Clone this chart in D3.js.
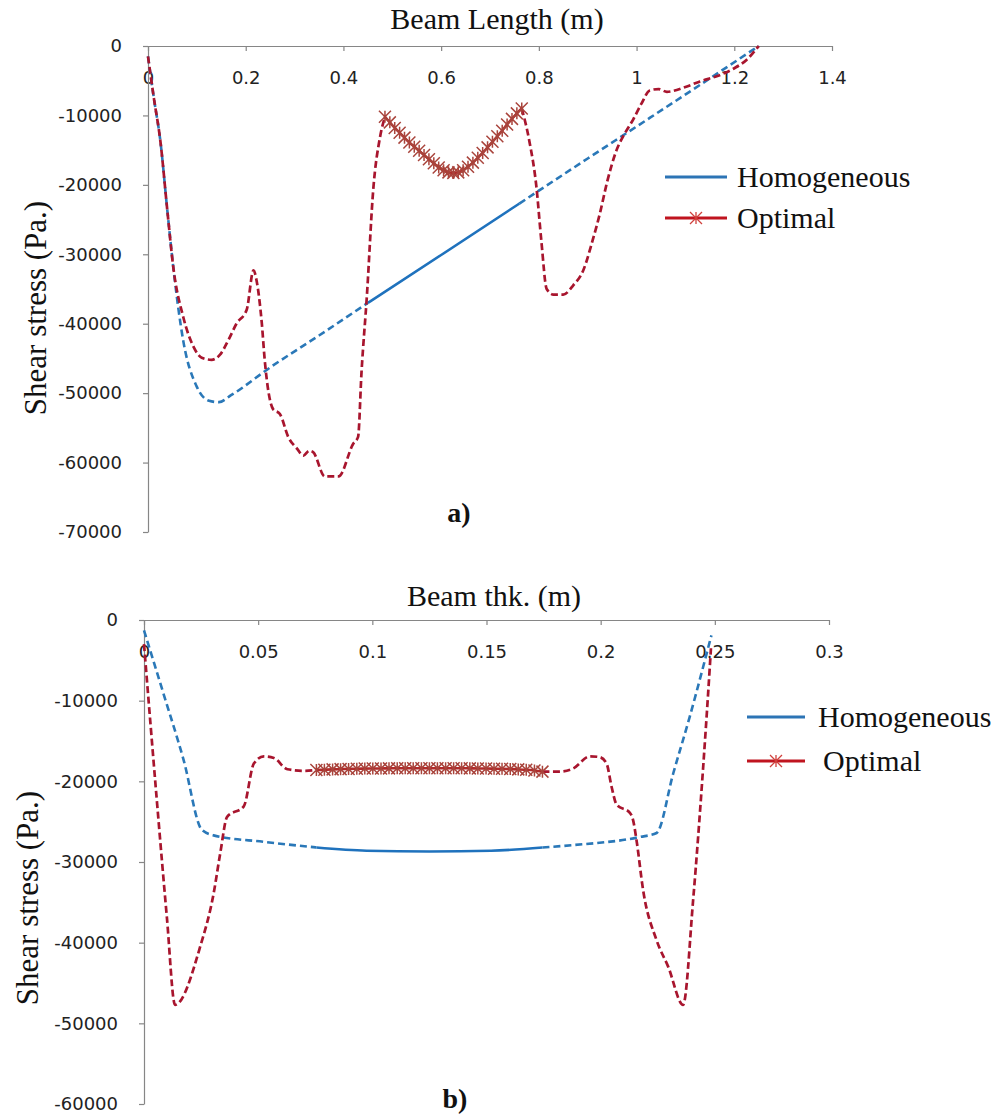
<!DOCTYPE html>
<html>
<head>
<meta charset="utf-8">
<script src="https://cdn.jsdelivr.net/npm/d3@7"></script>
<style>
  body { margin: 0; background: #fff; }
  .tick text { font-family: "DejaVu Sans", sans-serif; font-size: 18px; fill: #222; }
  .serif { font-family: "Liberation Serif", "Times New Roman", serif; fill: #111; }
</style>
</head>
<body>
<script>
// ---- a) shear stress along beam length ----
const lenTicksX = [0, 0.2, 0.4, 0.6, 0.8, 1, 1.2, 1.4];
const lenTicksY = [0, -10000, -20000, -30000, -40000, -50000, -60000, -70000];

const lenHomX = [0, 0.012, 0.025, 0.04, 0.052, 0.072, 0.1, 0.125, 0.145, 0.17, 0.25, 0.35, 0.45, 0.6, 0.76, 0.9, 1.0, 1.13, 1.25];
const lenHomY = [-1500, -7500, -13500, -24000, -32000, -42400, -49100, -51100, -51300, -50300, -46300, -41700, -37000, -30100, -22700, -16200, -11600, -5600, 0];
const lenHomSolid = [0.45, 0.76];

const lenOptStartX = [0, 0.012, 0.025, 0.04, 0.052, 0.072, 0.093, 0.11, 0.13, 0.147, 0.165, 0.181, 0.202, 0.216, 0.222, 0.233, 0.239, 0.256, 0.27, 0.287, 0.305, 0.318, 0.33, 0.338, 0.362, 0.39, 0.42, 0.43, 0.437, 0.448, 0.461, 0.475, 0.485];
const lenOptStartY = [-1500, -7500, -13500, -24000, -32000, -39000, -43300, -44900, -45200, -44500, -42300, -40000, -38000, -32300, -33700, -40000, -45300, -52300, -53000, -56300, -58000, -59000, -58300, -58500, -62000, -62000, -57300, -56300, -47000, -36000, -20700, -13100, -10200];

const lenOptStarX = [0.485, 0.495, 0.505, 0.515, 0.525, 0.535, 0.545, 0.555, 0.565, 0.575, 0.585, 0.595, 0.605, 0.615, 0.625, 0.635, 0.645, 0.655, 0.665, 0.675, 0.685, 0.695, 0.705, 0.715, 0.725, 0.735, 0.745, 0.755, 0.765];
const lenOptStarY = [-10200, -11000, -11800, -12500, -13200, -13900, -14500, -15100, -15700, -16300, -16900, -17500, -17900, -18200, -18300, -18200, -17900, -17400, -16800, -16100, -15400, -14600, -13800, -13000, -12200, -11300, -10500, -9700, -9000];

const lenOptEndX = [0.765, 0.78, 0.795, 0.805, 0.816, 0.83, 0.85, 0.87, 0.891, 0.91, 0.925, 0.94, 0.959, 0.975, 0.993, 1.01, 1.027, 1.045, 1.062, 1.1, 1.13, 1.17, 1.2, 1.225, 1.25];
const lenOptEndY = [-9000, -13500, -20300, -28000, -35000, -35800, -35800, -34500, -32300, -28000, -24100, -19500, -15000, -12700, -10600, -8300, -6400, -6200, -6600, -5900, -5100, -4200, -3200, -2000, 0];

// ---- b) shear stress through beam thickness ----
const thkTicksX = [0, 0.05, 0.1, 0.15, 0.2, 0.25, 0.3];
const thkTicksY = [0, -10000, -20000, -30000, -40000, -50000, -60000];

const thkHomX = [0, 0.0085, 0.0173, 0.0253, 0.0305, 0.0525, 0.0755, 0.0975, 0.125, 0.152, 0.1745, 0.188, 0.2172, 0.2245, 0.2318, 0.239, 0.2449, 0.2485];
const thkHomY = [-1300, -9100, -17300, -26000, -26700, -27500, -28200, -28600, -28700, -28600, -28200, -27900, -26900, -26400, -19000, -12000, -5800, -1900];
const thkHomSolid = [0.0755, 0.1745];

const thkOptStartX = [0, 0.0056, 0.01, 0.0136, 0.0246, 0.0305, 0.0334, 0.0364, 0.0437, 0.0481, 0.0525, 0.0569, 0.0628, 0.07, 0.0755];
const thkOptStartY = [-3000, -22300, -36800, -47700, -40500, -33900, -28900, -24400, -23100, -17800, -16900, -17100, -18500, -18700, -18600];

const thkOptStarX = [0.0755, 0.079, 0.0826, 0.0861, 0.0896, 0.0932, 0.0967, 0.1002, 0.1038, 0.1073, 0.1109, 0.1144, 0.1179, 0.1215, 0.125, 0.1285, 0.1321, 0.1356, 0.1391, 0.1427, 0.1462, 0.1498, 0.1533, 0.1568, 0.1604, 0.1639, 0.1674, 0.171, 0.1745];
const thkOptStarY = [-18600, -18560, -18520, -18490, -18460, -18440, -18420, -18410, -18400, -18390, -18380, -18380, -18370, -18370, -18370, -18370, -18370, -18380, -18380, -18390, -18400, -18410, -18430, -18450, -18480, -18520, -18570, -18660, -18800];

const thkOptEndX = [0.1745, 0.182, 0.188, 0.1953, 0.1996, 0.2026, 0.2048, 0.207, 0.2128, 0.2142, 0.2157, 0.2186, 0.2245, 0.2296, 0.2361, 0.2405, 0.2449, 0.2478, 0.2483];
const thkOptEndY = [-18800, -18800, -18400, -16900, -17000, -17800, -20700, -22900, -23900, -24800, -27300, -33500, -39700, -43000, -47700, -34700, -18200, -5800, -3500];

const seriesNames = ["Homogeneous", "Optimal"];

const zip = (xs, ys) => xs.map((x, i) => [x, ys[i]]);

const svg = d3.select("body").append("svg")
    .attr("width", 1000).attr("height", 1118);

function star(r) {
    return "M0," + (-r) + "V" + r + "M" + (-r) + "," + (-r) + "L" + r + "," + r + "M" + (-r) + "," + r + "L" + r + "," + (-r);
}

function drawPanel(p) {
    const x = d3.scaleLinear().domain(p.xDomain).range(p.xRange);
    const y = d3.scaleLinear().domain(p.yDomain).range(p.yRange);
    const g = svg.append("g");

    // axes: category axis sits on y = 0 (top), ticks pointing down
    const xAxis = g.append("g")
        .attr("transform", "translate(0," + y(0) + ")")
        .call(d3.axisBottom(x).tickValues(p.xTicks).tickFormat(d => String(d))
            .tickSize(5).tickSizeOuter(0).tickPadding(20));
    const yAxis = g.append("g")
        .attr("transform", "translate(" + x(0) + ",0)")
        .call(d3.axisLeft(y).tickValues(p.yTicks).tickFormat(d => String(d))
            .tickSize(5).tickSizeOuter(0).tickPadding(21));
    [xAxis, yAxis].forEach(a => {
        a.selectAll("path, line").attr("stroke", "#868686").attr("stroke-width", 1.2);
    });

    const line = d3.line()
        .x(d => x(d[0])).y(d => y(d[1]))
        .curve(d3.curveMonotoneX);

    // homogeneous: dashed outside the solid range, solid inside
    const hom = zip(p.homX, p.homY);
    const lo = p.homSolid[0], hi = p.homSolid[1];
    const homParts = [
        {d: hom.filter(d => d[0] <= lo), dash: "7,4"},
        {d: hom.filter(d => d[0] >= lo && d[0] <= hi), dash: null},
        {d: hom.filter(d => d[0] >= hi), dash: "7,4"}
    ];
    homParts.forEach(s => {
        g.append("path")
            .attr("d", line(s.d))
            .attr("fill", "none")
            .attr("stroke", s.dash ? "#2a78b8" : "#1f72bd")
            .attr("stroke-width", 2.6)
            .attr("stroke-dasharray", s.dash);
    });

    // optimal: dashed, then solid with star markers, then dashed
    [p.optStart, p.optEnd].forEach(s => {
        g.append("path")
            .attr("d", line(s))
            .attr("fill", "none")
            .attr("stroke", "#a8152e")
            .attr("stroke-width", 2.7)
            .attr("stroke-dasharray", "7,3.5");
    });
    g.append("path")
        .attr("d", line(p.optStar))
        .attr("fill", "none")
        .attr("stroke", "#b02a2a")
        .attr("stroke-width", 2.6);
    g.selectAll(".mk")
        .data(p.optStar)
        .enter()
        .append("path")
        .attr("transform", d => "translate(" + x(d[0]) + "," + y(d[1]) + ")")
        .attr("d", star(6))
        .attr("fill", "none")
        .attr("stroke", "#a9443c")
        .attr("stroke-width", 1.5);

    // titles
    g.append("text").attr("class", "serif")
        .attr("x", p.title.x).attr("y", p.title.y)
        .attr("text-anchor", "middle")
        .style("font-size", "30px")
        .text(p.title.text);
    g.append("text").attr("class", "serif")
        .attr("transform", "translate(" + p.yLabel.x + "," + p.yLabel.y + ") rotate(-90)")
        .attr("text-anchor", "middle")
        .style("font-size", "31px")
        .text("Shear stress (Pa.)");
    g.append("text").attr("class", "serif")
        .attr("x", p.tag.x).attr("y", p.tag.y)
        .attr("text-anchor", "middle")
        .style("font-size", "28px")
        .style("font-weight", "bold")
        .text(p.tag.text);

    // legend
    const lg = p.legend;
    seriesNames.forEach(function (name, i) {
        const ly = lg.y[i];
        g.append("line")
            .attr("x1", lg.x1).attr("x2", lg.x2)
            .attr("y1", ly).attr("y2", ly)
            .attr("stroke", i === 0 ? "#2c74b5" : "#c0141f")
            .attr("stroke-width", 2.8);
        if (i === 1) {
            g.append("path")
                .attr("transform", "translate(" + (lg.x1 + lg.x2) / 2 + "," + ly + ")")
                .attr("d", star(6))
                .attr("fill", "none")
                .attr("stroke", "#d0403c")
                .attr("stroke-width", 1.3);
        }
        g.append("text").attr("class", "serif")
            .attr("x", lg.tx[i]).attr("y", ly + 10)
            .style("font-size", "30px")
            .text(name);
    });
}

drawPanel({
    xDomain: [0, 1.4], xRange: [148, 832],
    yDomain: [-70000, 0], yRange: [532, 46],
    xTicks: lenTicksX, yTicks: lenTicksY,
    homX: lenHomX, homY: lenHomY, homSolid: lenHomSolid,
    optStart: zip(lenOptStartX, lenOptStartY),
    optStar: zip(lenOptStarX, lenOptStarY),
    optEnd: zip(lenOptEndX, lenOptEndY),
    title: {text: "Beam Length (m)", x: 497, y: 29},
    yLabel: {x: 46, y: 308},
    tag: {text: "a)", x: 459, y: 522},
    legend: {x1: 665, x2: 727, y: [177, 218], tx: [737, 737]}
});

drawPanel({
    xDomain: [0, 0.3], xRange: [144, 829],
    yDomain: [-60000, 0], yRange: [1104, 620],
    xTicks: thkTicksX, yTicks: thkTicksY,
    homX: thkHomX, homY: thkHomY, homSolid: thkHomSolid,
    optStart: zip(thkOptStartX, thkOptStartY),
    optStar: zip(thkOptStarX, thkOptStarY),
    optEnd: zip(thkOptEndX, thkOptEndY),
    title: {text: "Beam thk. (m)", x: 494, y: 606},
    yLabel: {x: 38, y: 898},
    tag: {text: "b)", x: 455, y: 1108},
    legend: {x1: 747, x2: 805, y: [717, 761], tx: [818, 823]}
});
</script>
</body>
</html>
